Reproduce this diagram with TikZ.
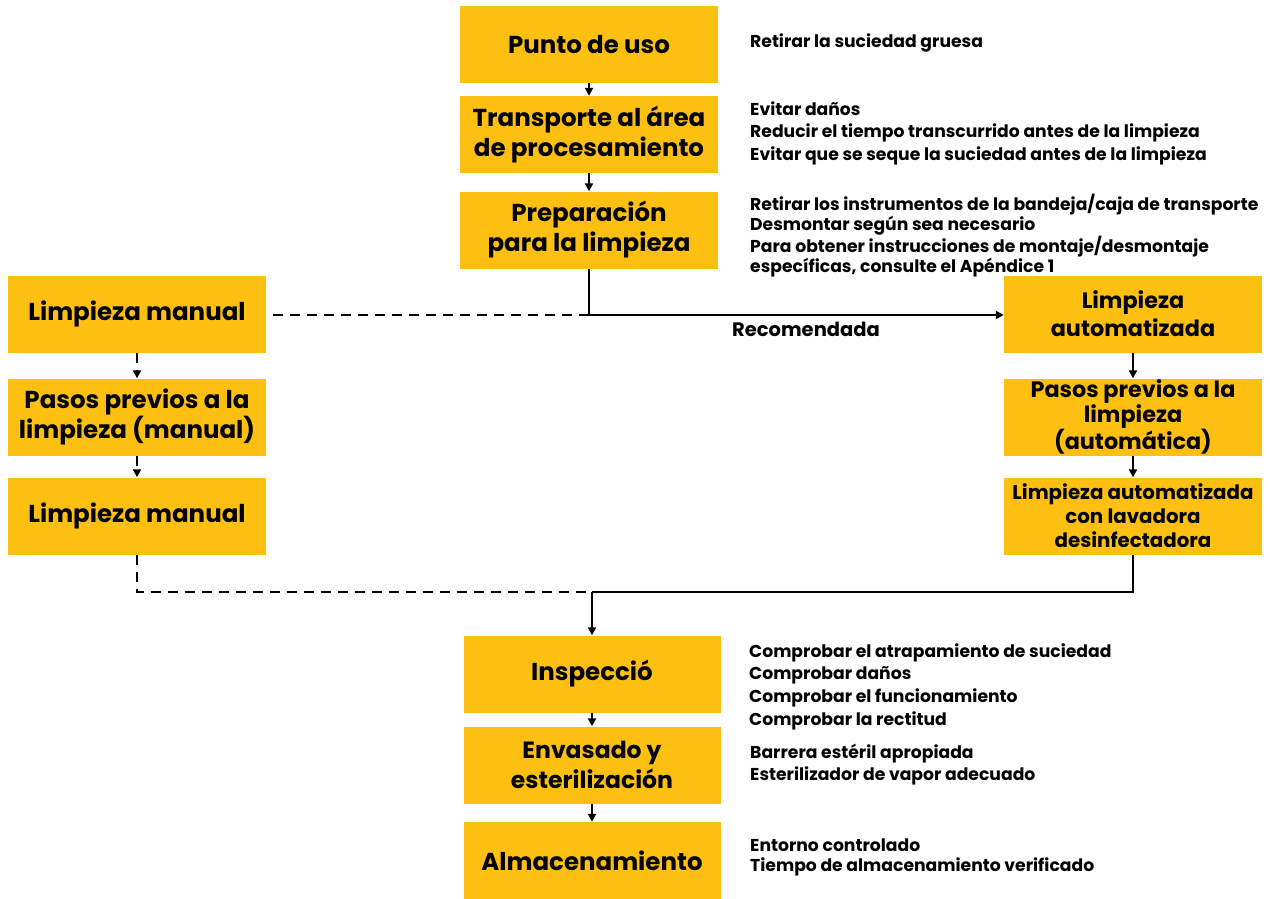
\documentclass[tikz,border=0pt]{standalone}
\usepackage{fontspec}
\setmainfont{Poppins}
\usetikzlibrary{arrows.meta}
\definecolor{boxgold}{HTML}{FDC010}
\begin{document}
\begin{tikzpicture}[x=1pt,y=-1pt,
  stepbox/.style={fill=boxgold,minimum width=258pt,minimum height=77pt,
    align=center,inner sep=1pt,font=\bfseries\fontsize{24.5}{30}\selectfont},
  midbox/.style={stepbox,font=\bfseries\fontsize{22.3}{24.5}\selectfont},
  notes/.style={anchor=north west,align=left,inner sep=0pt,
    font=\bfseries\fontsize{17.2}{22.5}\selectfont},
  flow/.style={line width=2pt,-{Triangle[length=8pt,width=8pt]}},
  flowline/.style={line width=2pt},
  alt/.style={line width=2pt,dash pattern=on 10pt off 7pt},
  altarrow/.style={alt,-{Triangle[length=8pt,width=8pt]}}]
\useasboundingbox (0,0) rectangle (1270,899);

% main column
\node[stepbox] (punto) at (589,44.5) {Punto de uso};
\node[stepbox] (transp) at (589,134.5) {Transporte al área\\de procesamiento};
\node[stepbox] (prep) at (589,230) {Preparación\\para la limpieza};

% manual branch
\node[stepbox] (lm1) at (137,314) {Limpieza manual};
\node[stepbox] (ppm) at (137,417) {Pasos previos a la\\limpieza (manual)};
\node[stepbox] (lm2) at (137,516) {Limpieza manual};

% automated branch
\node[midbox,font=\bfseries\fontsize{22.3}{28}\selectfont] (la) at (1133,314) {Limpieza\\automatizada};
\node[midbox] (ppa) at (1133,417) {Pasos previos a la\\limpieza\\(automática)};
\node[midbox,font=\bfseries\fontsize{19.8}{24}\selectfont] (law) at (1133,516) {Limpieza automatizada\\con lavadora\\desinfectadora};

% final column
\node[stepbox,minimum width=257pt] (insp) at (592,674) {Inspecció};
\node[stepbox,minimum width=257pt,font=\bfseries\fontsize{23.5}{30}\selectfont] (env) at (592,765) {Envasado y\\esterilización};
\node[stepbox,minimum width=257pt] (alm) at (592,860.5) {Almacenamiento};

% junctions
\coordinate (split) at (589,315);
\coordinate (merge) at (592,592);

% connectors
\draw[flow] (punto) -- (transp);
\draw[flow] (transp) -- (prep);
\draw[flowline] (prep.south) -- (split);
\draw[flow] (split) -- (la.west |- split);
\node[font=\bfseries\fontsize{19.5}{22}\selectfont] (rec) at (806,329) {Recomendada};
\draw[alt] (split) -- (lm1.east |- split);
\draw[altarrow] (lm1) -- (ppm);
\draw[altarrow] (ppm) -- (lm2);
\draw[alt] (lm2.south) |- (merge);
\draw[flow] (la) -- (ppa);
\draw[flow] (ppa) -- (law);
\draw[flowline] (law.south) |- (merge);
\draw[flow] (merge) -- (insp);
\draw[flow] (insp) -- (env);
\draw[flow] (env) -- (alm);

% notes
\node[notes] (n1) at (750,33.3) {Retirar la suciedad gruesa};
\node[notes] (n2) at (750,101.3) {Evitar daños\\Reducir el tiempo transcurrido antes de la limpieza\\Evitar que se seque la suciedad antes de la limpieza};
\node[notes,font=\bfseries\fontsize{17.2}{20}\selectfont] (n3) at (750,194.3) {Retirar los instrumentos de la bandeja/caja de transporte\\Desmontar según sea necesario\\Para obtener instrucciones de montaje/desmontaje\\específicas, consulte el Apéndice 1};
\node[notes,font=\bfseries\fontsize{17.2}{22.7}\selectfont] (n4) at (749,643.3) {Comprobar el atrapamiento de suciedad\\Comprobar daños\\Comprobar el funcionamiento\\Comprobar la rectitud};
\node[notes,font=\bfseries\fontsize{17.2}{22}\selectfont] (n5) at (750,744.3) {Barrera estéril apropiada\\Esterilizador de vapor adecuado};
\node[notes,font=\bfseries\fontsize{17.2}{20}\selectfont] (n6) at (750,838.3) {Entorno controlado\\Tiempo de almacenamiento verificado};
\end{tikzpicture}
\end{document}
